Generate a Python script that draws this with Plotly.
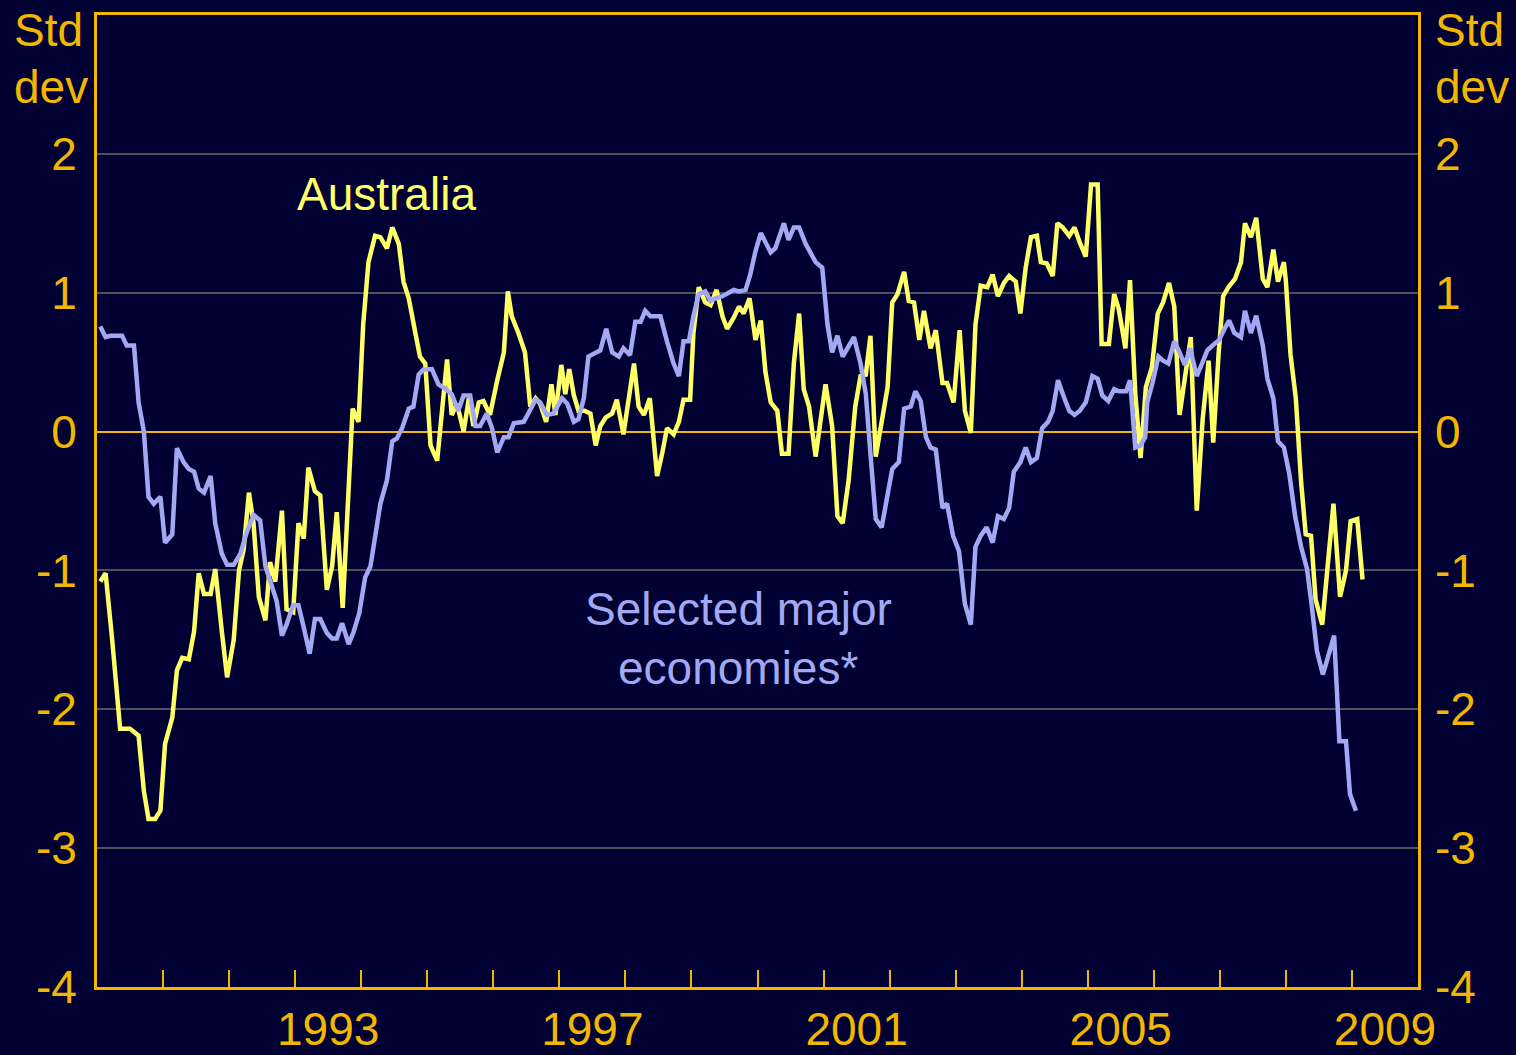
import plotly.graph_objects as go

# ---------------- data ----------------
aus_dates = [
    1990.05, 1990.13, 1990.23, 1990.35, 1990.50, 1990.63, 1990.71, 1990.78, 1990.88, 1990.96,
    1991.03, 1991.14, 1991.21, 1991.29, 1991.39, 1991.47, 1991.54, 1991.62, 1991.72, 1991.79,
    1991.89, 1991.97, 1992.07, 1992.15, 1992.22, 1992.30, 1992.37, 1992.45, 1992.55, 1992.62,
    1992.70, 1992.80, 1992.87, 1992.97, 1993.05, 1993.13, 1993.20, 1993.30, 1993.38, 1993.48,
    1993.56, 1993.63, 1993.72, 1993.81, 1993.87, 1993.96, 1994.03, 1994.11, 1994.21, 1994.29,
    1994.39, 1994.47, 1994.57, 1994.64, 1994.72, 1994.82, 1994.89, 1994.97, 1995.05, 1995.15,
    1995.22, 1995.30, 1995.37, 1995.45, 1995.55, 1995.63, 1995.70, 1995.78, 1995.85, 1995.95,
    1996.06, 1996.16, 1996.22, 1996.28, 1996.38, 1996.48, 1996.56, 1996.64, 1996.71, 1996.80,
    1996.88, 1996.94, 1997.03, 1997.09, 1997.15, 1997.22, 1997.29, 1997.38, 1997.47, 1997.55,
    1997.62, 1997.70, 1997.80, 1997.87, 1997.97, 1998.05, 1998.13, 1998.20, 1998.28, 1998.37,
    1998.48, 1998.56, 1998.63, 1998.73, 1998.81, 1998.88, 1998.98, 1999.03, 1999.11, 1999.21,
    1999.29, 1999.38, 1999.47, 1999.54, 1999.64, 1999.72, 1999.79, 1999.88, 1999.97, 2000.05,
    2000.12, 2000.20, 2000.30, 2000.37, 2000.47, 2000.55, 2000.63, 2000.70, 2000.78, 2000.88,
    2000.95, 2001.03, 2001.13, 2001.21, 2001.29, 2001.38, 2001.48, 2001.56, 2001.64, 2001.71,
    2001.79, 2001.86, 2001.97, 2002.04, 2002.12, 2002.22, 2002.29, 2002.37, 2002.45, 2002.52,
    2002.62, 2002.70, 2002.80, 2002.87, 2002.97, 2003.06, 2003.14, 2003.23, 2003.30, 2003.38,
    2003.48, 2003.56, 2003.64, 2003.73, 2003.81, 2003.91, 2003.98, 2004.06, 2004.14, 2004.23,
    2004.29, 2004.38, 2004.47, 2004.54, 2004.62, 2004.72, 2004.80, 2004.88, 2004.97, 2005.05,
    2005.15, 2005.21, 2005.32, 2005.40, 2005.47, 2005.57, 2005.64, 2005.72, 2005.80, 2005.88,
    2005.97, 2006.06, 2006.14, 2006.23, 2006.31, 2006.39, 2006.47, 2006.56, 2006.65, 2006.74,
    2006.83, 2006.90, 2006.98, 2007.05, 2007.13, 2007.23, 2007.32, 2007.38, 2007.47, 2007.55,
    2007.65, 2007.72, 2007.81, 2007.88, 2007.97, 2008.00, 2008.07, 2008.15, 2008.23, 2008.30,
    2008.38, 2008.45, 2008.55, 2008.63, 2008.72, 2008.82, 2008.91, 2008.98, 2009.08, 2009.16,
]
aus_values = [
    -1.08, -1.02, -1.50, -2.14, -2.14, -2.19, -2.59, -2.79, -2.79, -2.73,
    -2.25, -2.06, -1.72, -1.63, -1.64, -1.44, -1.02, -1.17, -1.17, -0.99,
    -1.44, -1.77, -1.50, -1.00, -0.85, -0.44, -0.66, -1.19, -1.36, -0.94,
    -1.08, -0.57, -1.28, -1.30, -0.66, -0.77, -0.26, -0.43, -0.46, -1.14,
    -0.97, -0.58, -1.27, -0.35, 0.165, 0.07, 0.77, 1.22, 1.41, 1.40,
    1.32, 1.47, 1.35, 1.08, 0.96, 0.71, 0.54, 0.49, -0.10, -0.21,
    0.15, 0.52, 0.12, 0.20, 0.00, 0.24, 0.04, 0.21, 0.22, 0.12,
    0.37, 0.57, 1.01, 0.83, 0.71, 0.57, 0.18, 0.24, 0.20, 0.07,
    0.34, 0.12, 0.48, 0.27, 0.45, 0.26, 0.15, 0.15, 0.13, -0.10,
    0.04, 0.10, 0.13, 0.23, -0.02, 0.21, 0.49, 0.18, 0.12, 0.24,
    -0.32, -0.15, 0.025, -0.02, 0.07, 0.23, 0.23, 0.71, 1.04, 0.93,
    0.91, 1.02, 0.83, 0.74, 0.82, 0.90, 0.85, 0.96, 0.66, 0.80,
    0.43, 0.21, 0.15, -0.16, -0.16, 0.49, 0.85, 0.305, 0.18, -0.18,
    0.06, 0.34, 0.04, -0.61, -0.66, -0.35, 0.18, 0.40, 0.41, 0.69,
    -0.18, 0.00, 0.32, 0.93, 0.99, 1.15, 0.94, 0.93, 0.66, 0.87,
    0.60, 0.73, 0.35, 0.35, 0.21, 0.73, 0.15, -0.01, 0.77, 1.05,
    1.04, 1.13, 0.975, 1.07, 1.12, 1.08, 0.85, 1.18, 1.40, 1.41,
    1.22, 1.21, 1.12, 1.50, 1.47, 1.41, 1.47, 1.36, 1.26, 1.78,
    1.78, 0.63, 0.63, 0.99, 0.88, 0.60, 1.09, 0.27, -0.19, 0.32,
    0.46, 0.85, 0.93, 1.07, 0.90, 0.12, 0.40, 0.68, -0.57, 0.09,
    0.51, -0.08, 0.555, 0.975, 1.04, 1.10, 1.22, 1.50, 1.40, 1.54,
    1.10, 1.04, 1.31, 1.08, 1.22, 1.08, 0.555, 0.24, -0.36, -0.74,
    -0.75, -1.21, -1.39, -0.96, -0.52, -1.19, -1.00, -0.645, -0.63, -1.065,
]

major_dates = [
    1990.05, 1990.13, 1990.20, 1990.38, 1990.45, 1990.56, 1990.63, 1990.71, 1990.78, 1990.86,
    1990.96, 1991.03, 1991.14, 1991.21, 1991.31, 1991.39, 1991.47, 1991.54, 1991.62, 1991.72,
    1991.79, 1991.89, 1991.97, 1992.07, 1992.17, 1992.27, 1992.37, 1992.47, 1992.55, 1992.62,
    1992.72, 1992.80, 1992.87, 1992.97, 1993.05, 1993.13, 1993.22, 1993.30, 1993.38, 1993.48,
    1993.56, 1993.63, 1993.71, 1993.81, 1993.88, 1993.97, 1994.06, 1994.14, 1994.21, 1994.29,
    1994.39, 1994.47, 1994.54, 1994.62, 1994.72, 1994.79, 1994.87, 1994.94, 1995.07, 1995.17,
    1995.27, 1995.37, 1995.47, 1995.55, 1995.65, 1995.73, 1995.80, 1995.90, 1995.98, 1996.06,
    1996.16, 1996.23, 1996.31, 1996.46, 1996.53, 1996.64, 1996.71, 1996.81, 1996.91, 1997.04,
    1997.12, 1997.22, 1997.29, 1997.37, 1997.44, 1997.55, 1997.62, 1997.71, 1997.80, 1997.90,
    1997.97, 1998.07, 1998.15, 1998.23, 1998.30, 1998.38, 1998.53, 1998.63, 1998.73, 1998.81,
    1998.88, 1998.96, 1999.03, 1999.11, 1999.21, 1999.29, 1999.36, 1999.47, 1999.54, 1999.64,
    1999.72, 1999.82, 1999.89, 1999.97, 2000.05, 2000.12, 2000.20, 2000.27, 2000.32, 2000.40,
    2000.47, 2000.55, 2000.63, 2000.73, 2000.80, 2000.88, 2000.98, 2001.06, 2001.13, 2001.21,
    2001.29, 2001.38, 2001.46, 2001.56, 2001.64, 2001.71, 2001.79, 2001.88, 2001.97, 2002.04,
    2002.14, 2002.22, 2002.32, 2002.39, 2002.47, 2002.55, 2002.62, 2002.70, 2002.80, 2002.87,
    2002.96, 2003.05, 2003.14, 2003.23, 2003.30, 2003.38, 2003.47, 2003.56, 2003.64, 2003.73,
    2003.81, 2003.88, 2003.98, 2004.06, 2004.14, 2004.23, 2004.31, 2004.40, 2004.47, 2004.55,
    2004.63, 2004.72, 2004.80, 2004.88, 2004.97, 2005.07, 2005.15, 2005.22, 2005.31, 2005.40,
    2005.47, 2005.58, 2005.64, 2005.72, 2005.80, 2005.87, 2005.90, 2005.98, 2006.07, 2006.14,
    2006.22, 2006.31, 2006.39, 2006.47, 2006.55, 2006.65, 2006.73, 2006.81, 2006.89, 2006.99,
    2007.07, 2007.14, 2007.22, 2007.32, 2007.38, 2007.47, 2007.55, 2007.65, 2007.72, 2007.81,
    2007.88, 2007.97, 2008.05, 2008.14, 2008.23, 2008.32, 2008.39, 2008.47, 2008.56, 2008.64,
    2008.73, 2008.81, 2008.91, 2008.97, 2009.06,
]
major_values = [
    0.757, 0.68, 0.69, 0.69, 0.62, 0.62, 0.21, 0.00, -0.47, -0.52,
    -0.47, -0.80, -0.74, -0.12, -0.22, -0.27, -0.29, -0.41, -0.44, -0.32,
    -0.66, -0.88, -0.96, -0.96, -0.88, -0.72, -0.60, -0.64, -0.97, -1.07,
    -1.22, -1.47, -1.39, -1.25, -1.25, -1.41, -1.60, -1.35, -1.35, -1.45,
    -1.49, -1.49, -1.38, -1.53, -1.45, -1.31, -1.05, -0.97, -0.75, -0.52,
    -0.35, -0.07, -0.05, 0.025, 0.165, 0.18, 0.41, 0.445, 0.45, 0.34,
    0.31, 0.27, 0.15, 0.26, 0.26, 0.04, 0.04, 0.13, 0.025, -0.15,
    -0.04, -0.04, 0.06, 0.07, 0.13, 0.23, 0.21, 0.12, 0.13, 0.24,
    0.20, 0.07, 0.09, 0.24, 0.54, 0.57, 0.585, 0.74, 0.57, 0.54,
    0.60, 0.55, 0.79, 0.79, 0.87, 0.83, 0.83, 0.65, 0.49, 0.40,
    0.65, 0.65, 0.83, 0.99, 1.01, 0.94, 0.96, 0.975, 0.99, 1.02,
    1.01, 1.02, 1.13, 1.30, 1.43, 1.36, 1.29, 1.32, 1.40, 1.50,
    1.38, 1.47, 1.47, 1.35, 1.29, 1.22, 1.18, 0.77, 0.57, 0.69,
    0.54, 0.62, 0.68, 0.49, 0.27, -0.16, -0.63, -0.69, -0.44, -0.27,
    -0.22, 0.165, 0.18, 0.29, 0.22, -0.04, -0.115, -0.13, -0.55, -0.52,
    -0.75, -0.86, -1.24, -1.39, -0.83, -0.75, -0.69, -0.80, -0.61, -0.63,
    -0.55, -0.29, -0.22, -0.115, -0.22, -0.19, 0.025, 0.07, 0.15, 0.37,
    0.26, 0.15, 0.12, 0.15, 0.21, 0.40, 0.38, 0.26, 0.22, 0.305,
    0.29, 0.29, 0.37, -0.115, -0.10, -0.04, 0.21, 0.35, 0.54, 0.51,
    0.49, 0.65, 0.57, 0.48, 0.60, 0.40, 0.49, 0.585, 0.62, 0.66,
    0.74, 0.80, 0.71, 0.68, 0.87, 0.71, 0.835, 0.62, 0.38, 0.24,
    -0.07, -0.115, -0.30, -0.61, -0.83, -0.99, -1.25, -1.58, -1.75, -1.63,
    -1.47, -2.23, -2.23, -2.61, -2.73,
]

y_tick_values = [-4, -3, -2, -1, 0, 1, 2]
y_tick_labels = ["-4", "-3", "-2", "-1", "0", "1", "2"]
x_minor_ticks = list(range(1991, 2010))
x_label_years = [1993, 1997, 2001, 2005, 2009]

# ---------------- style ----------------
BG = "#000033"
GOLD = "#F2B700"
YELLOW = "#FFFF66"
LAVENDER = "#A3A8F2"
GRID = "#4F4F5E"
FONT = "Liberation Sans, Arial, sans-serif"
FS = 46

fig = go.Figure()
fig.add_trace(go.Scatter(x=aus_dates, y=aus_values, mode="lines",
                         line=dict(color=YELLOW, width=4.5), name="Australia",
                         showlegend=False, hoverinfo="skip"))
fig.add_trace(go.Scatter(x=major_dates, y=major_values, mode="lines",
                         line=dict(color=LAVENDER, width=4.5), name="Selected major economies",
                         showlegend=False, hoverinfo="skip", xaxis="x2", yaxis="y2"))

xr = [1990, 2010]
yr = [-4, 3]

fig.update_layout(
    width=1516, height=1055,
    margin=dict(l=97, r=98, t=15, b=68, autoexpand=False),
    paper_bgcolor=BG, plot_bgcolor=BG,
    font=dict(family=FONT, size=FS, color=GOLD),
    xaxis=dict(range=xr, tickvals=x_minor_ticks, showticklabels=False,
               ticks="inside", ticklen=17, tickwidth=2, tickcolor=GOLD,
               showgrid=False, zeroline=False, showline=True, linecolor=GOLD,
               linewidth=3, mirror=True, fixedrange=True, automargin=False),
    yaxis=dict(range=yr, tickvals=y_tick_values, ticktext=y_tick_labels,
               ticks="", showgrid=True, gridcolor=GRID, gridwidth=2,
               zeroline=True, zerolinecolor=GOLD, zerolinewidth=2,
               showline=True, linecolor=GOLD, linewidth=3, mirror=True,
               ticklabelstandoff=8, tickfont=dict(size=FS, color=GOLD),
               fixedrange=True, automargin=False),
    xaxis2=dict(range=xr, overlaying="x", anchor="y2", side="bottom",
                tickvals=[y + 0.5 for y in x_label_years],
                ticktext=[str(y) for y in x_label_years],
                ticks="", showgrid=False, zeroline=False, showline=False,
                ticklabelstandoff=11, tickfont=dict(size=FS, color=GOLD),
                fixedrange=True, automargin=False),
    yaxis2=dict(range=yr, overlaying="y", anchor="x2", side="right",
                tickvals=y_tick_values, ticktext=y_tick_labels,
                ticks="", showgrid=False, zeroline=False, showline=False,
                ticklabelstandoff=16, tickfont=dict(size=FS, color=GOLD),
                fixedrange=True, automargin=False),
    showlegend=False,
)

annos = [
    dict(text="Std", x=-0.0643, y=0.9846),
    dict(text="dev", x=-0.0643, y=0.9259),
    dict(text="Std", x=1.0114, y=0.9846),
    dict(text="dev", x=1.0114, y=0.9259),
]
for a in annos:
    fig.add_annotation(text=a["text"], x=a["x"], y=a["y"], xref="paper", yref="paper",
                       xanchor="left", yanchor="middle", showarrow=False,
                       font=dict(family=FONT, size=FS, color=GOLD))

fig.add_annotation(text="Australia", x=1994.39, y=1.71, xref="x", yref="y",
                   showarrow=False, font=dict(family=FONT, size=FS, color=YELLOW))
fig.add_annotation(text="Selected major", x=1999.71, y=-1.28, xref="x", yref="y",
                   showarrow=False, font=dict(family=FONT, size=FS, color=LAVENDER))
fig.add_annotation(text="economies*", x=1999.71, y=-1.70, xref="x", yref="y",
                   showarrow=False, font=dict(family=FONT, size=FS, color=LAVENDER))

fig.write_html(
    "out.html",
    config={"displayModeBar": False},
    post_script="document.body.style.margin='0';document.body.style.background='#000033';"
                "document.body.style.overflow='hidden';",
)
